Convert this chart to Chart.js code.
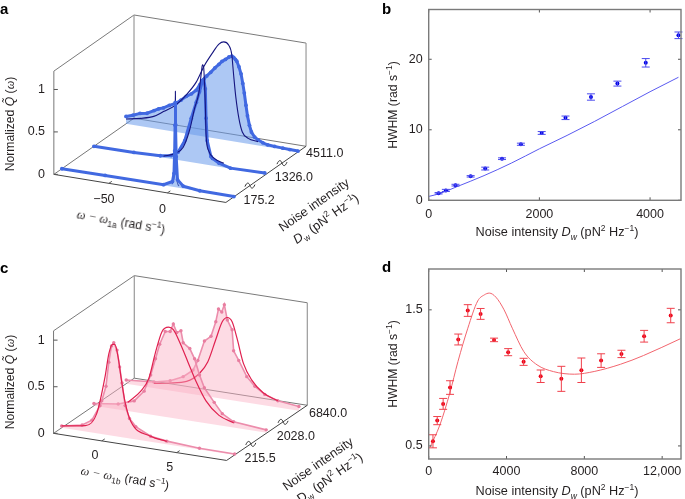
<!DOCTYPE html>
<html>
<head>
<meta charset="utf-8">
<script src="https://cdn.jsdelivr.net/npm/chart.js@4"></script>
<style>
html, body { margin: 0; padding: 0; background: #fff; }
body { position: relative; width: 685px; height: 499px; overflow: hidden; font-family: "Liberation Sans", Arial, sans-serif; color: #231f20; }
canvas { position: absolute; }
.lab { position: absolute; white-space: nowrap; font-size: 12.7px; line-height: 14px; transform: translate(-50%, -50%) rotate(var(--r, 0deg)); }
.lab.y { font-size: 12.2px; }
.lab sup, .lab sub { font-size: 8.5px; line-height: 0; }
.let { position: absolute; font-weight: bold; font-size: 15px; line-height: 15px; color: #000; }
.om { font-family: "Liberation Serif", serif; font-style: italic; }
</style>
</head>
<body>
<canvas id="a" width="355" height="250" style="left:0;top:0"></canvas>
<canvas id="b" width="305" height="250" style="left:380px;top:0"></canvas>
<canvas id="c" width="355" height="249" style="left:0;top:250px"></canvas>
<canvas id="d" width="305" height="249" style="left:380px;top:250px"></canvas>

<div class="let" style="left:0;top:1px">a</div>
<div class="let" style="left:382px;top:1px">b</div>
<div class="let" style="left:0;top:260px">c</div>
<div class="let" style="left:382px;top:259px">d</div>

<div class="lab y" style="left:10px;top:124px;--r:-90deg">Normalized <i>Q̃</i> (<span class="om">ω</span>)</div>
<div class="lab y" style="left:121px;top:222px;--r:10deg"><span class="om">ω − ω</span><sub>1a</sub> (rad s<sup>−1</sup>)</div>
<div class="lab" style="left:314px;top:205px;--r:-35deg">Noise intensity</div>
<div class="lab" style="left:326px;top:219px;--r:-35deg"><i>D</i><sub>w</sub> (pN<sup>2</sup> Hz<sup>−1</sup>)</div>

<div class="lab y" style="left:10px;top:382px;--r:-90deg">Normalized <i>Q̃</i> (<span class="om">ω</span>)</div>
<div class="lab y" style="left:125px;top:478px;--r:10deg"><span class="om">ω − ω</span><sub>1b</sub> (rad s<sup>−1</sup>)</div>
<div class="lab" style="left:318px;top:464px;--r:-35deg">Noise intensity</div>
<div class="lab" style="left:330px;top:478px;--r:-35deg">D<sub>w</sub> (pN<sup>2</sup> Hz<sup>−1</sup>)</div>

<div class="lab y" style="left:393px;top:105px;--r:-90deg">HWHM (rad s<sup>−1</sup>)</div>
<div class="lab" style="left:557px;top:232px">Noise intensity <i>D<sub>w</sub></i> (pN<sup>2</sup> Hz<sup>−1</sup>)</div>
<div class="lab y" style="left:393px;top:364px;--r:-90deg">HWHM (rad s<sup>−1</sup>)</div>
<div class="lab" style="left:557px;top:491px">Noise intensity <i>D<sub>w</sub></i> (pN<sup>2</sup> Hz<sup>−1</sup>)</div>

<script>
// panel a, measured spectra (w = omega - omega_1a, q = normalized Q)
var wA1 = [-97, -60, -10.1, -2.5, -1.2, -0.6, -0.25, -0.1, 0.3, 0.7, 1.8, 6.8, 20.8, 50];
var qA1 = [0, 0.005, 0.008, 0.062, 0.16, 0.426, 0.73, 1, 0.734, 0.36, 0.093, 0.028, 0.006, 0.003];
var wA2 = [-97, -62.8, -40.3, -31, -25, -19.4, -13.8, -9.5, -6.8, -4.3, -3.1, -1.8, -1.2, -0.2, 3, 4.3, 9.9, 19.7, 49];
var qA2 = [0, 0.005, 0.016, 0.04, 0.095, 0.24, 0.518, 0.717, 0.844, 0.975, 1, 0.89, 0.547, 0.284, 0.105, 0.085, 0.041, 0.005, 0.015];
var wA3 = [-97, -91, -85, -79, -73, -69, -65, -60, -54, -50, -45.5, -41, -37, -34, -31.5, -28, -24.6, -21, -17.6, -15, -12, -9, -6.6, -5, -3.5, -2.3, -0.5, 1.3, 2.8, 4.1, 5.5, 6.8, 8.5, 10.2, 13, 15.8, 20, 24, 30, 37, 43, 50];
var qA3 = [0.087, 0.115, 0.15, 0.165, 0.21, 0.24, 0.26, 0.3, 0.34, 0.385, 0.44, 0.48, 0.53, 0.6, 0.66, 0.72, 0.77, 0.83, 0.88, 0.92, 0.95, 0.985, 1, 0.99, 0.97, 0.95, 0.89, 0.81, 0.7, 0.59, 0.45, 0.33, 0.22, 0.145, 0.09, 0.065, 0.04, 0.025, 0.02, 0.015, 0.012, 0.01];
// panel a, fits
var wFitA1 = [-3, -1, -0.35, -0.1, 0, 0.1, 0.35, 1, 3];
var qFitA1 = [0.03, 0.13, 0.45, 0.9, 1.13, 0.9, 0.45, 0.13, 0.02];
var wFitA2 = [-37.5, -27.7, -20.7, -15.1, -11, -7.3, -5.1, -4.3, -3.2, -2.6, -1.8, -1.2, 0.9, 5.8, 14];
var qFitA2 = [0.017, 0.07, 0.161, 0.382, 0.639, 0.835, 1.086, 1.168, 1.136, 0.978, 0.697, 0.357, 0.172, 0.089, 0.05];
var wFitA3 = [-97, -84.5, -73.3, -65, -55.2, -45.5, -37, -30.2, -23.2, -17.6, -13.5, -9.3, -6.6, -5.1, -3.2, -0.4, 2.4, 7.4, 15.8];
var qFitA3 = [0.057, 0.093, 0.141, 0.216, 0.309, 0.457, 0.626, 0.832, 0.999, 1.118, 1.153, 1.125, 1.017, 0.793, 0.532, 0.273, 0.128, 0.064, 0.044];
var noiseA = ["175.2", "1326.0", "4511.0"];

// panel c, measured spectra
var wC1 = [-3.22, -1.85, -1.2, -0.66, -0.54, -0.26, -0.07, 0.11, 0.26, 0.48, 0.65, 0.81, 1.02, 1.31, 1.73, 2.72, 3.8, 5.98, 8.33];
var qC1 = [0.02, 0.065, 0.133, 0.302, 0.357, 0.52, 0.784, 0.963, 1, 0.927, 0.751, 0.583, 0.345, 0.214, 0.138, 0.059, 0.034, 0.012, 0.01];
var wC2 = [-3.22, -1.6, -0.53, 0.13, 0.57, 0.89, 1.17, 1.54, 1.87, 2.08, 2.31, 2.59, 2.74, 3.18, 3.5, 3.83, 4.15, 4.81, 5.35, 6.11, 8.28];
var qC2 = [0.025, 0.06, 0.12, 0.241, 0.426, 0.608, 0.77, 0.917, 0.925, 1.011, 0.926, 0.951, 0.826, 0.775, 0.673, 0.508, 0.378, 0.239, 0.131, 0.063, 0.031];
var wC3 = [-3.22, -1.37, -0.29, 0.58, 1.24, 1.56, 2, 2.44, 2.76, 2.94, 3.16, 3.33, 3.53, 3.85, 3.95, 4.29, 4.83, 5.37, 6.03, 6.9, 8.31];
var qC3 = [0.04, 0.064, 0.105, 0.171, 0.258, 0.37, 0.589, 0.651, 0.815, 0.957, 0.929, 1.013, 0.853, 0.756, 0.534, 0.438, 0.278, 0.188, 0.118, 0.071, 0.045];
// panel c, fits
var wFitC1 = [-3.22, -1.64, -0.88, -0.32, -0.07, 0.18, 0.33, 0.55, 0.77, 1.02, 1.41, 2.72, 3.8];
var qFitC1 = [0.02, 0.063, 0.211, 0.622, 0.873, 0.981, 0.985, 0.853, 0.616, 0.38, 0.182, 0.06, 0.032];
var wFitC2 = [-0.96, -0.09, 0.45, 0.89, 1.33, 1.76, 2.08, 2.52, 3.06, 3.6, 4.26, 5.13, 6.11];
var qFitC2 = [0.094, 0.236, 0.388, 0.676, 0.912, 0.968, 0.949, 0.82, 0.626, 0.432, 0.241, 0.107, 0.053];
var wFitC3 = [-1.37, -0.29, 0.81, 1.68, 2.22, 2.76, 3.19, 3.53, 3.85, 4.17, 4.61, 5.15, 5.92, 6.9];
var qFitC3 = [0.05, 0.081, 0.126, 0.235, 0.369, 0.625, 0.826, 0.88, 0.842, 0.677, 0.412, 0.252, 0.133, 0.071];
var noiseC = ["215.5", "2028.0", "6840.0"];

// panel b
var noiseB = [179, 310, 484, 758, 1021, 1325, 1666, 2042, 2472, 2932, 3410, 3922, 4513];
var hwhmB = [1, 1.4, 2.15, 3.4, 4.5, 5.9, 7.95, 9.55, 11.7, 14.65, 16.55, 19.5, 23.4];
var errB = [0.1, 0.15, 0.12, 0.1, 0.2, 0.12, 0.15, 0.2, 0.25, 0.45, 0.35, 0.6, 0.47];
var noiseFitB = [0, 200, 500, 1000, 1500, 2000, 2500, 3000, 3500, 4000, 4513];
var hwhmFitB = [0.55, 0.95, 1.9, 3.5, 5.3, 7.3, 9.2, 11.2, 13.3, 15.4, 17.45];
var xTicksB = [0, 2000, 4000];
var yTicksB = [0, 10, 20];

// panel d
var noiseD = [219, 439, 743, 1097, 1519, 2008, 2667, 3359, 4084, 4878, 5755, 6818, 7848, 8861, 9907, 11072, 12439];
var hwhmD = [0.534, 0.686, 0.809, 0.929, 1.282, 1.495, 1.47, 1.279, 1.189, 1.118, 1.012, 0.993, 1.056, 1.127, 1.176, 1.306, 1.458];
var errD = [0.048, 0.03, 0.04, 0.05, 0.04, 0.043, 0.04, 0.013, 0.026, 0.026, 0.046, 0.092, 0.09, 0.05, 0.027, 0.043, 0.053];
var noiseFitD = [66, 574, 1082, 1503, 2011, 2519, 2860, 3114, 3454, 3875, 4298, 4890, 5567, 6415, 7494, 8506, 9857, 11038, 12928];
var hwhmFitD = [0.49, 0.654, 0.887, 1.12, 1.365, 1.565, 1.61, 1.623, 1.593, 1.5, 1.365, 1.193, 1.096, 1.046, 1.027, 1.047, 1.1, 1.164, 1.287];
var xTicksD = [0, 4000, 8000, 12000];
var yTicksD = [0.5, 1.5];

var FONT = '12.5px "Liberation Sans", Arial, sans-serif';
var INK = "#231f20";

// oblique projection of the 3D panels: front edge, depth edge, height
var geoA = { ox: 51, oy: 176, ux: 176, uy: 29, dx: 82, dy: -58, zs: 87.7, wMin: -97, wMax: 50, top: 1.216, yMin: 0, yMax: 250,
    wTicks: [-50, 0], wTickLabels: ["−50", "0"], labelDx: -5, labelDy: 17, noise: noiseA, noiseY: [203.5, 179, 155], noiseX: [245, 277, 309] };
var geoC = { ox: 50.7, oy: 435.3, ux: 177, uy: 28, dx: 82.6, dy: -57, zs: 96.3, wMin: -3.22, wMax: 8.33, top: 1.1, yMin: 250, yMax: 499,
    wTicks: [0, 5], wTickLabels: ["0", "5"], labelDx: -7, labelDy: 15, noise: noiseC, noiseY: [461.7, 439, 415], noiseX: [246, 279, 312] };
var depths = [0.1, 0.5, 0.9];
var breaks = [0.3, 0.7];

function project(g, w, depth, q) {
    var u = (w - g.wMin) / (g.wMax - g.wMin);
    return {
        x: g.ox + u * g.ux + depth * g.dx,
        y: g.oy + u * g.uy + depth * g.dy - q * g.zs
    };
}

function curve(g, ws, qs, depth) {
    return ws.map(function (w, i) { return project(g, w, depth, qs[i]); });
}

// grey box, ticks and labels of a 3D panel
var box3d = {
    id: "box3d",
    beforeDatasetsDraw: function (chart) {
        var g = chart.config.options.geo;
        var ctx = chart.ctx;
        var sx = chart.scales.x, sy = chart.scales.y;
        function pt(u, d, z) {
            return [sx.getPixelForValue(g.ox + u * g.ux + d * g.dx), sy.getPixelForValue(g.oy + u * g.uy + d * g.dy - z * g.zs)];
        }
        function seg(a, b, col, lw) {
            ctx.strokeStyle = col;
            ctx.lineWidth = lw;
            ctx.beginPath();
            ctx.moveTo(a[0], a[1]);
            ctx.lineTo(b[0], b[1]);
            ctx.stroke();
        }
        ctx.save();
        seg(pt(0, 0, g.top), pt(0, 1, g.top), "#7a7a7a", 1);
        seg(pt(0, 1, g.top), pt(1, 1, g.top), "#7a7a7a", 1);
        seg(pt(0, 1, g.top), pt(0, 1, 0), "#9a9a9a", 1.2);
        seg(pt(1, 1, g.top), pt(1, 1, 0), "#9a9a9a", 1.2);
        seg(pt(0, 1, 0), pt(1, 1, 0), "#777", 1);
        seg(pt(0, 0, 0), pt(0, 1, 0), "#777", 1);
        seg(pt(0, 0, 0), pt(0, 0, g.top), "#777", 1);
        seg(pt(0, 0, 0), pt(1, 0, 0), "#444", 1);
        seg(pt(1, 0, 0), pt(1, 1, 0), "#444", 1);

        // ticks on the height axis and frequency axis
        [0, 0.5, 1].forEach(function (z) {
            var p = pt(0, 0, z);
            seg(p, [p[0] + 4, p[1]], "#555", 1);
        });
        g.wTicks.forEach(function (w) {
            var p = pt((w - g.wMin) / (g.wMax - g.wMin), 0, 0);
            seg(p, [p[0] + 3, p[1] - 2], "#555", 1);
        });

        // axis breaks
        breaks.forEach(function (d) {
            var c = pt(1, d, 0);
            ctx.strokeStyle = "#333";
            ctx.lineWidth = 1;
            ctx.beginPath();
            ctx.moveTo(c[0] - 5, c[1] + 1);
            ctx.bezierCurveTo(c[0] - 3, c[1] - 4, c[0] - 1, c[1] - 3, c[0], c[1]);
            ctx.bezierCurveTo(c[0] + 1, c[1] + 3, c[0] + 3, c[1] + 4, c[0] + 5, c[1] - 1);
            ctx.stroke();
        });
        ctx.restore();
    },
    afterDatasetsDraw: function (chart) {
        var g = chart.config.options.geo;
        var ctx = chart.ctx;
        var sx = chart.scales.x, sy = chart.scales.y;
        ctx.save();
        ctx.font = FONT;
        ctx.fillStyle = INK;
        ctx.textBaseline = "middle";
        ctx.textAlign = "right";
        [[0, "0"], [0.5, "0.5"], [1, "1"]].forEach(function (t) {
            ctx.fillText(t[1], sx.getPixelForValue(g.ox - 9), sy.getPixelForValue(g.oy - t[0] * g.zs));
        });
        ctx.textAlign = "center";
        g.wTicks.forEach(function (w, i) {
            var p = project(g, w, 0, 0);
            ctx.fillText(g.wTickLabels[i], sx.getPixelForValue(p.x + g.labelDx), sy.getPixelForValue(p.y + g.labelDy));
        });
        ctx.textAlign = "left";
        g.noise.forEach(function (t, i) {
            ctx.fillText(t, sx.getPixelForValue(g.noiseX[i]), sy.getPixelForValue(g.noiseY[i]));
        });
        ctx.restore();
    }
};

function waterfall(id, g, series, cols) {
    var sets = [];
    // first dataset is painted last, so the front spectrum goes first
    series.forEach(function (s, i) {
        var d = depths[i];
        var fit = {
            label: "fit " + g.noise[i],
            data: curve(g, s.wFit, s.qFit, d),
            borderColor: cols.fit, borderWidth: cols.fitWidth,
            pointRadius: 0, showLine: true, cubicInterpolationMode: "monotone", fill: false, clip: false
        };
        var spectrum = {
            label: "data " + g.noise[i],
            data: curve(g, s.w, s.q, d),
            borderColor: cols.line, borderWidth: cols.lineWidth,
            pointRadius: cols.dot, pointBackgroundColor: cols.marker, pointBorderWidth: 0,
            showLine: true, tension: 0, fill: sets.length + 2, backgroundColor: cols.fill, clip: false
        };
        // the narrow front peak in panel a has its blue over the dark fit
        if (s.dataOnTop) {
            sets.push(spectrum, fit);
        } else {
            sets.push(fit, spectrum);
        }
        sets.push({
            label: "base " + g.noise[i],
            data: [project(g, g.wMin, d, 0), project(g, g.wMax, d, 0)],
            borderWidth: 0, pointRadius: 0, showLine: true, fill: false, borderColor: "transparent", clip: false
        });
    });
    return new Chart(document.getElementById(id), {
        type: "scatter",
        data: { datasets: sets },
        options: {
            geo: g,
            responsive: false,
            animation: false,
            devicePixelRatio: 1,
            events: [],
            plugins: { legend: { display: false }, tooltip: { enabled: false } },
            scales: {
                x: { type: "linear", display: false, min: 0, max: 355 },
                y: { type: "linear", display: false, min: g.yMin, max: g.yMax, reverse: true }
            }
        },
        plugins: [box3d]
    });
}

waterfall("a", geoA, [
    { w: wA1, q: qA1, wFit: wFitA1, qFit: qFitA1, dataOnTop: true },
    { w: wA2, q: qA2, wFit: wFitA2, qFit: qFitA2 },
    { w: wA3, q: qA3, wFit: wFitA3, qFit: qFitA3 }
], { fit: "#15157f", fitWidth: 1.1, line: "#4169e1", lineWidth: 3, marker: "#4169e1", dot: 1.9, fill: "rgba(105,155,235,0.55)" });

waterfall("c", geoC, [
    { w: wC1, q: qC1, wFit: wFitC1, qFit: qFitC1 },
    { w: wC2, q: qC2, wFit: wFitC2, qFit: qFitC2 },
    { w: wC3, q: qC3, wFit: wFitC3, qFit: qFitC3 }
], { fit: "#e0204f", fitWidth: 1.2, line: "#ec8dac", lineWidth: 1.6, marker: "#e87ea0", dot: 1.7, fill: "rgba(250,175,195,0.45)" });

// frame with inward ticks on all four sides, and the error bars
var framePlugin = {
    id: "framePlugin",
    afterDatasetsDraw: function (chart) {
        var o = chart.config.options.hw;
        var a = chart.chartArea, ctx = chart.ctx;
        var sx = chart.scales.x, sy = chart.scales.y;
        ctx.save();
        ctx.strokeStyle = o.errCol;
        ctx.lineWidth = 1;
        o.x.forEach(function (v, i) {
            var px = sx.getPixelForValue(v);
            var hi = sy.getPixelForValue(o.y[i] + o.err[i]);
            var lo = sy.getPixelForValue(o.y[i] - o.err[i]);
            ctx.beginPath();
            ctx.moveTo(px, hi); ctx.lineTo(px, lo);
            ctx.moveTo(px - 4, hi); ctx.lineTo(px + 4, hi);
            ctx.moveTo(px - 4, lo); ctx.lineTo(px + 4, lo);
            ctx.stroke();
        });
        ctx.strokeStyle = "#555";
        ctx.beginPath();
        sx.ticks.forEach(function (t) {
            var px = sx.getPixelForValue(t.value);
            ctx.moveTo(px, a.bottom); ctx.lineTo(px, a.bottom - 3);
            ctx.moveTo(px, a.top); ctx.lineTo(px, a.top + 3);
        });
        sy.ticks.forEach(function (t) {
            var py = sy.getPixelForValue(t.value);
            ctx.moveTo(a.left, py); ctx.lineTo(a.left + 3, py);
            ctx.moveTo(a.right, py); ctx.lineTo(a.right - 3, py);
        });
        ctx.stroke();
        ctx.strokeStyle = "#7a7a7a";
        ctx.lineWidth = 1.4;
        ctx.strokeRect(a.left, a.top, a.right - a.left, a.bottom - a.top);
        ctx.restore();
    }
};

function hwhmChart(id, s) {
    return new Chart(document.getElementById(id), {
        type: "scatter",
        data: {
            datasets: [
                { label: "HWHM", data: s.x.map(function (v, i) { return { x: v, y: s.y[i] }; }),
                  pointRadius: 2, pointBackgroundColor: s.dot, pointBorderWidth: 0, showLine: false },
                { label: "fit", data: s.fx.map(function (v, i) { return { x: v, y: s.fy[i] }; }),
                  borderColor: s.line, borderWidth: 1, pointRadius: 0, showLine: true, cubicInterpolationMode: "monotone" }
            ]
        },
        options: {
            hw: { x: s.x, y: s.y, err: s.err, errCol: s.errCol },
            responsive: false,
            animation: false,
            devicePixelRatio: 1,
            events: [],
            layout: { padding: { top: s.top, right: 1, left: 0, bottom: 0 } },
            plugins: { legend: { display: false }, tooltip: { enabled: false } },
            scales: {
                x: {
                    type: "linear", min: 0, max: s.xMax,
                    grid: { display: false, drawTicks: false, tickLength: 0 }, border: { display: false },
                    afterBuildTicks: function (sc) { sc.ticks = s.xTicks.map(function (v) { return { value: v }; }); },
                    afterFit: function (sc) { sc.height = s.axisH; sc.paddingLeft = 0; sc.paddingRight = 0; },
                    ticks: { color: INK, font: { family: '"Liberation Sans"', size: 12.5 }, padding: s.padX, maxRotation: 0,
                        callback: function (v) { return v >= 10000 ? "12,000" : String(v); } }
                },
                y: {
                    type: "linear", min: s.yMin, max: s.yMax,
                    grid: { display: false, drawTicks: false, tickLength: 0 }, border: { display: false },
                    afterBuildTicks: function (sc) { sc.ticks = s.yTicks.map(function (v) { return { value: v }; }); },
                    afterFit: function (sc) { sc.width = 48.7; sc.paddingTop = 0; sc.paddingBottom = 0; },
                    ticks: { color: INK, font: { family: '"Liberation Sans"', size: 12.5 }, padding: 6 }
                }
            }
        },
        plugins: [framePlugin]
    });
}

hwhmChart("b", { x: noiseB, y: hwhmB, err: errB, fx: noiseFitB, fy: hwhmFitB, xTicks: xTicksB, yTicks: yTicksB,
    xMax: 4559, yMin: 0, yMax: 27.06, top: 9.5, axisH: 49.7, padX: 7, dot: "#0000e6", line: "#5a5af0", errCol: "#4a4aee" });
hwhmChart("d", { x: noiseD, y: hwhmD, err: errD, fx: noiseFitD, fy: hwhmFitD, xTicks: xTicksD, yTicks: yTicksD,
    xMax: 12968, yMin: 0.404, yMax: 1.8, top: 19, axisH: 40, padX: 5, dot: "#ee0016", line: "#f2656e", errCol: "#f0404c" });
</script>
</body>
</html>
